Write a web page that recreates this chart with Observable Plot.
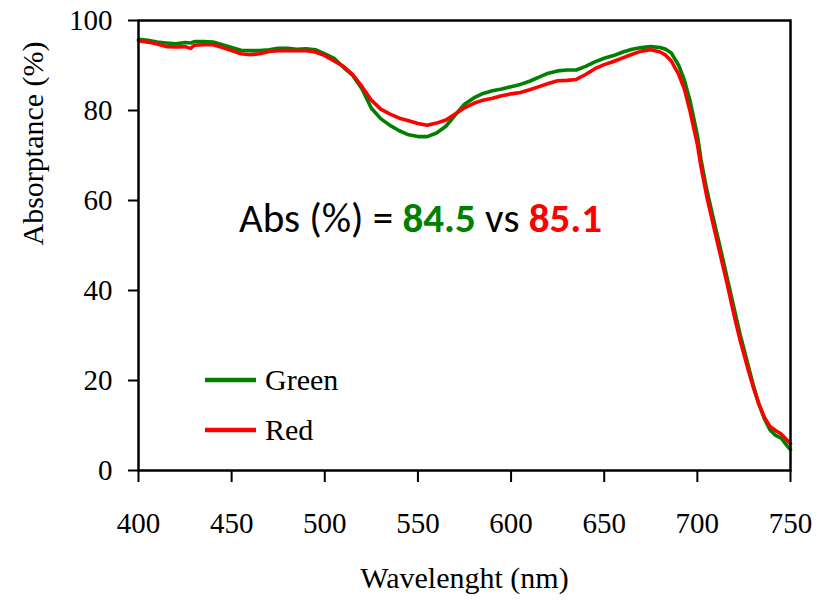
<!DOCTYPE html>
<html>
<head>
<meta charset="utf-8">
<script src="https://cdn.jsdelivr.net/npm/d3@7"></script>
<script src="https://cdn.jsdelivr.net/npm/@observablehq/plot@0.6"></script>
<style>
  html, body { margin: 0; padding: 0; background: #fff; }
  #chart { position: relative; width: 832px; height: 604px; }
</style>
</head>
<body>
<div id="chart"></div>
<script>
const wavelengths = [400,405,410,415,420,425,428,430,435,440,445,450,455,460,465,470,475,480,485,490,495,500,505,510,515,520,525,530,535,540,545,550,555,560,565,570,575,580,585,590,595,600,605,610,615,620,625,630,635,640,645,650,655,660,665,670,675,680,683,686,690,693,696,700,702,705,708,712,716,720,723,727,730,733,736,739,742,745,748,750];
const greenAbs = [95.8,95.6,95.2,95.0,94.8,95.1,95.0,95.3,95.3,95.2,94.6,94.0,93.4,93.3,93.3,93.5,93.8,93.8,93.6,93.7,93.5,92.6,91.6,89.6,87.8,84.8,80.5,78.2,76.7,75.5,74.6,74.2,74.2,75.0,76.5,79.0,81.4,82.8,83.8,84.4,84.8,85.3,85.8,86.5,87.4,88.3,88.8,89.0,89.0,89.8,90.8,91.6,92.2,93.0,93.6,94.0,94.2,94.0,93.6,92.8,90.0,86.8,82.3,74.5,69.0,62.5,57.0,50.0,42.8,35.5,30.2,23.8,19.0,14.8,11.5,9.0,7.8,7.2,5.6,4.6];
const redAbs = [95.5,95.2,94.8,94.2,94.1,94.2,93.8,94.5,94.6,94.6,94.0,93.3,92.6,92.4,92.6,93.1,93.3,93.3,93.3,93.3,93.0,92.2,91.0,89.8,88.0,85.3,82.3,80.3,79.2,78.3,77.7,77.1,76.7,77.2,77.9,79.2,80.6,81.6,82.3,82.7,83.3,83.7,84.0,84.6,85.3,86.0,86.6,86.7,86.9,88.0,89.3,90.2,90.9,91.7,92.5,93.2,93.5,93.0,92.3,91.0,88.0,84.8,80.0,72.5,67.4,61.0,55.6,48.5,41.5,34.0,28.9,22.8,18.5,14.8,11.8,9.8,8.9,8.1,6.8,6.0];
const seriesNames = ["Green", "Red"];
const seriesColors = ["#008000", "#ff0000"];
const absTotals = [84.5, 85.1];
const xTicks = [400,450,500,550,600,650,700,750];
const yTicks = [0,20,40,60,80,100];

const rows = [];
wavelengths.forEach((w, i) => rows.push({w, v: greenAbs[i], s: seriesNames[0]}));
wavelengths.forEach((w, i) => rows.push({w, v: redAbs[i], s: seriesNames[1]}));

const SERIF = "Liberation Serif";

const chart = Plot.plot({
  width: 832,
  height: 604,
  marginLeft: 138,
  marginRight: 42,
  marginTop: 20,
  marginBottom: 134,
  style: "font-family: 'Liberation Serif'; font-size: 29px; color: black; background: white;",
  x: {domain: [400, 750]},
  y: {domain: [0, 100]},
  color: {domain: seriesNames, range: seriesColors},
  marks: [
    Plot.line(rows, {x: "w", y: "v", z: "s", stroke: "s", strokeWidth: 3.6, strokeLinejoin: "round"}),
    Plot.frame({stroke: "black", strokeWidth: 2.5}),
    Plot.axisX({ticks: xTicks, tickSize: 12, tickPadding: 30, strokeWidth: 2, label: null, fontSize: 29, fontFamily: SERIF}),
    Plot.axisY({ticks: yTicks, tickSize: 10, tickPadding: 16, strokeWidth: 2, label: null, fontSize: 29, fontFamily: SERIF}),
    Plot.text(["Wavelenght (nm)"], {frameAnchor: "bottom", dy: 108, lineAnchor: "middle", fontSize: 30, fontFamily: SERIF, text: d => d}),
    Plot.text(["Absorptance (%)"], {frameAnchor: "left", dx: -105, rotate: -90, lineAnchor: "middle", fontSize: 30, fontFamily: SERIF, text: d => d})
  ]
});

const svg = d3.select(chart);
svg.selectAll("text").style("font-family", "'Liberation Serif'");

// Legend (in-plot)
const legend = svg.append("g");
seriesNames.forEach((name, i) => {
  const cy = 380 + i * 50;
  legend.append("line").attr("x1", 205).attr("x2", 256).attr("y1", cy).attr("y2", cy)
    .attr("stroke", seriesColors[i]).attr("stroke-width", 4.5);
  legend.append("text").attr("x", 265).attr("y", cy + 10).attr("text-anchor", "start")
    .style("font-family", "'Liberation Serif'").style("font-size", "30px").attr("fill", "black").text(name);
});
// Annotation
const ann = svg.append("text").attr("x", 239).attr("y", 232).attr("text-anchor", "start")
  .style("font-family", "Carlito").style("font-size", "41px").attr("fill", "black");
ann.append("tspan").text("Abs (%) = ");
ann.append("tspan").attr("font-weight", "bold").attr("fill", seriesColors[0]).text(absTotals[0].toFixed(1));
ann.append("tspan").text(" vs ");
ann.append("tspan").attr("font-weight", "bold").attr("fill", seriesColors[1]).text(absTotals[1].toFixed(1));

document.getElementById("chart").appendChild(chart);
</script>
</body>
</html>
